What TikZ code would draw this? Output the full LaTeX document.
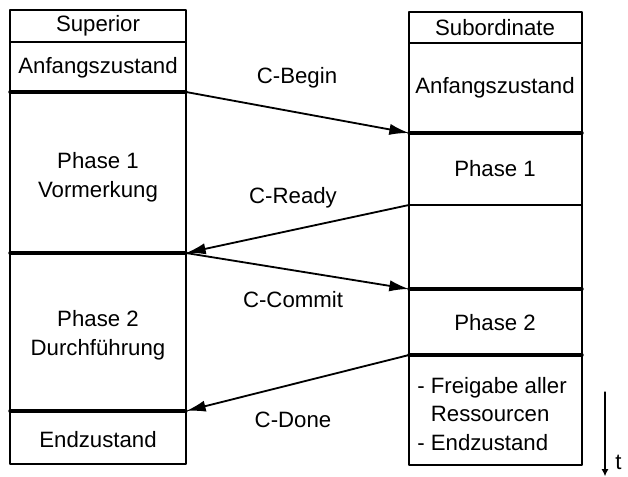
\documentclass[tikz,border=0pt]{standalone}
\usepackage{fontspec}
\setmainfont{Liberation Sans}
\usepackage{tkz-euclide}
\usetikzlibrary{arrows.meta}

\begin{document}
\begin{tikzpicture}[
    cell/.style={font=\fontsize{15.8}{20.3}\selectfont,align=center,inner sep=0pt},
    frame/.style={line width=1pt,color=black},
    bar/.style={line width=2.4pt,color=black},
    msg/.style={-{Latex[length=14pt,width=8pt]},line width=1.3pt,color=black}]
  \useasboundingbox (0,0) rectangle (15.7,11.925);
  % superior column
  \tkzDefPoint(0.25,11.675){S1}
  \tkzDefPoint(4.65,11.675){S2}
  \tkzDefPoint(4.65,0.325){S3}
  \tkzDefPoint(0.25,0.325){S4}
  \tkzDefPoint(0.25,10.875){Sh}
  \tkzDefPoint(4.65,10.875){Sh'}
  \tkzDefPoint(0.25,9.625){Sa}
  \tkzDefPoint(4.65,9.625){Sa'}
  \tkzDefPoint(0.25,5.6){Sb}
  \tkzDefPoint(4.65,5.6){Sb'}
  \tkzDefPoint(0.25,1.65){Sc}
  \tkzDefPoint(4.65,1.65){Sc'}
  % subordinate column
  \tkzDefPoint(10.225,11.625){U1}
  \tkzDefPoint(14.55,11.625){U2}
  \tkzDefPoint(14.55,0.3){U3}
  \tkzDefPoint(10.225,0.3){U4}
  \tkzDefPoint(10.225,10.85){Uh}
  \tkzDefPoint(14.55,10.85){Uh'}
  \tkzDefPoint(10.225,8.6){Ua}
  \tkzDefPoint(14.55,8.6){Ua'}
  \tkzDefPoint(10.225,6.8){Ub}
  \tkzDefPoint(14.55,6.8){Ub'}
  \tkzDefPoint(10.225,4.7){Uc}
  \tkzDefPoint(14.55,4.7){Uc'}
  \tkzDefPoint(10.225,3.05){Ud}
  \tkzDefPoint(14.55,3.05){Ud'}
  % time axis
  \tkzDefPoint(15.125,2.125){T1}
  \tkzDefPoint(15.125,0.02){T2}
  \tkzDrawPolygon[frame](S1,S2,S3,S4)
  \tkzDrawPolygon[frame](U1,U2,U3,U4)
  \tkzDrawSegments[frame](Sh,Sh' Uh,Uh' Ub,Ub')
  \tkzDrawSegments[bar](Sa,Sa' Sb,Sb' Sc,Sc' Ua,Ua' Uc,Uc' Ud,Ud')
  \tkzDrawSegment[msg](Sa',Ua)
  \tkzDrawSegment[msg](Ub,Sb')
  \tkzDrawSegment[msg](Sb',Uc)
  \tkzDrawSegment[msg](Ud,Sc')
  \tkzDrawSegment[-{Latex[length=5pt,width=5pt]},line width=0.9pt](T1,T2)
  \node[cell] (sup) at (2.45,11.275) {Superior};
  \node[cell] (supinit) at (2.45,10.225) {Anfangszustand};
  \node[cell] (supone) at (2.45,7.5) {Phase 1\\Vormerkung};
  \node[cell] (suptwo) at (2.45,3.55) {Phase 2\\Durchführung};
  \node[cell] (supend) at (2.45,0.925) {Endzustand};
  \node[cell] (sub) at (12.375,11.225) {Subordinate};
  \node[cell] (subinit) at (12.375,9.725) {Anfangszustand};
  \node[cell] (subone) at (12.375,7.7) {Phase 1};
  \node[cell] (subtwo) at (12.375,3.85) {Phase 2};
  \node[cell,align=left] (subend) at (12.3,1.575)
    {- Freigabe aller\\\phantom{- }Ressourcen\\- Endzustand};
  \node[cell] (begin) at (7.425,9.975) {C-Begin};
  \node[cell] (ready) at (7.325,6.975) {C-Ready};
  \node[cell] (commit) at (7.325,4.425) {C-Commit};
  \node[cell] (done) at (7.325,1.425) {C-Done};
  \node[cell,anchor=base west] (time) at (15.38,0.18) {t};
\end{tikzpicture}
\end{document}
